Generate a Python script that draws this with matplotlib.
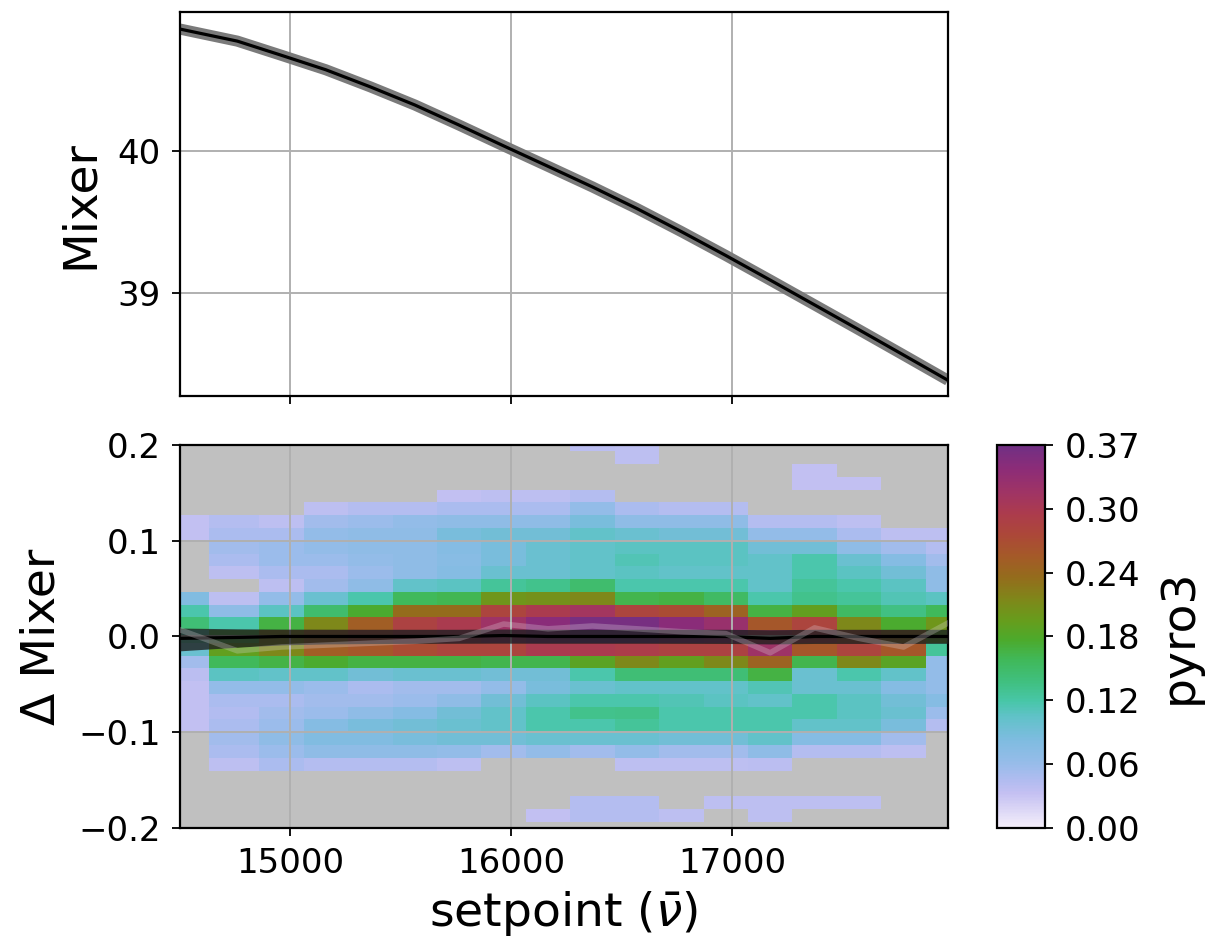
import numpy as np
import matplotlib
matplotlib.use("Agg")
import matplotlib.pyplot as plt
from matplotlib.colors import LinearSegmentedColormap

# ---------------- data ----------------
setpoints = [14500, 14760, 14960, 15161, 15362, 15564, 15765, 15966, 16167,
             16368, 16570, 16771, 16972, 17173, 17374, 17576, 17777, 17978]

mixer_mean = [40.86, 40.775, 40.675, 40.573, 40.453, 40.325, 40.183, 40.037, 39.893,
              39.748, 39.595, 39.433, 39.265, 39.092, 38.917, 38.741, 38.564, 38.386]

resid_mean = [-0.002, -0.001, 0.0, 0.0, 0.0, 0.0, 0.0, 0.001, 0.0,
              0.0, 0.0, 0.0, 0.0, -0.002, 0.0, 0.0, 0.0, 0.0]
resid_hi = [0.0088, 0.0080, 0.0077, 0.0076, 0.0075, 0.0075, 0.0075, 0.0078, 0.0075,
            0.0075, 0.0075, 0.0075, 0.0075, 0.0070, 0.0075, 0.0075, 0.0075, 0.0075]
resid_lo = [-0.0150, -0.0112, -0.0088, -0.0078, -0.0074, -0.0072, -0.0071, -0.0070, -0.0071,
            -0.0071, -0.0071, -0.0072, -0.0073, -0.0078, -0.0073, -0.0073, -0.0073, -0.0072]
resid_alt = [0.007, -0.015, -0.011, -0.009, -0.007, -0.005, -0.002, 0.013, 0.008,
             0.011, 0.008, 0.005, 0.003, -0.017, 0.009, -0.002, -0.011, 0.014]

# Δ Mixer bin centres, top (0.2) to bottom (-0.2)
dmixer_centres = np.linspace(0.2, -0.2, 31)

# pyro3 fraction per bin, one list per setpoint column, rows top -> bottom
c14500 = [0, 0, 0, 0, 0, 0, .035, .035, 0, 0, 0, 0, .082, .12, .145, .12, .10, .055, .04, .035, .035, .035, .035, 0, 0, 0, 0, 0, 0, 0, 0]
c14760 = [0, 0, 0, 0, 0, 0, .043, .05, .055, .05, .038, 0, .038, .07, .12, .17, .195, .16, .11, .065, .05, .045, .05, .055, .05, .038, 0, 0, 0, 0, 0]
c14960 = [0, 0, 0, 0, 0, 0, .038, .05, .06, .06, .05, .038, .065, .11, .17, .22, .218, .168, .105, .065, .05, .055, .06, .07, .06, .05, 0, 0, 0, 0, 0]
c15161 = [0, 0, 0, 0, 0, .038, .055, .065, .065, .06, .05, .055, .10, .15, .218, .25, .255, .178, .105, .06, .055, .06, .078, .082, .07, .043, 0, 0, 0, 0, 0]
c15362 = [0, 0, 0, 0, 0, .043, .06, .07, .07, .065, .06, .07, .12, .178, .255, .28, .262, .17, .093, .05, .055, .07, .088, .082, .07, .043, 0, 0, 0, 0, 0]
c15564 = [0, 0, 0, 0, 0, .043, .065, .07, .07, .07, .07, .105, .16, .24, .29, .30, .275, .17, .10, .055, .06, .078, .093, .088, .07, .043, 0, 0, 0, 0, 0]
c15765 = [0, 0, 0, 0, .035, .05, .07, .088, .078, .075, .078, .11, .163, .24, .303, .31, .285, .17, .10, .055, .07, .093, .10, .093, .065, .038, 0, 0, 0, 0, 0]
c15966 = [0, 0, 0, 0, .038, .05, .07, .093, .088, .088, .10, .128, .205, .285, .322, .33, .285, .165, .093, .065, .093, .105, .105, .093, .055, 0, 0, 0, 0, 0, 0]
c16167 = [0, 0, 0, 0, .038, .05, .07, .093, .10, .10, .10, .133, .21, .303, .345, .35, .303, .165, .093, .088, .11, .12, .12, .10, .065, 0, 0, 0, 0, .035, 0]
c16368 = [.04, 0, 0, 0, .043, .065, .088, .105, .105, .105, .105, .15, .218, .315, .36, .366, .303, .19, .12, .10, .12, .133, .12, .10, .055, 0, 0, 0, .043, .043, 0]
c16570 = [.038, .038, 0, 0, 0, .05, .07, .10, .11, .115, .11, .12, .165, .285, .36, .366, .298, .218, .145, .105, .12, .135, .128, .10, .065, .038, 0, 0, .043, .043, 0]
c16771 = [0, 0, 0, 0, 0, .043, .07, .093, .11, .11, .105, .12, .17, .275, .345, .35, .29, .195, .145, .105, .115, .12, .12, .093, .055, .038, 0, 0, 0, .038, 0]
c16972 = [0, 0, 0, 0, 0, .043, .07, .093, .11, .11, .105, .12, .155, .25, .33, .34, .29, .218, .145, .105, .11, .12, .12, .093, .055, .038, 0, 0, .038, 0, 0]
c17173 = [0, 0, 0, 0, 0, 0, .043, .065, .093, .105, .105, .105, .12, .17, .262, .31, .322, .25, .17, .115, .105, .12, .12, .105, .07, .04, 0, 0, .038, .038, 0]
c17374 = [0, 0, .035, .035, 0, 0, .043, .065, .093, .12, .12, .128, .133, .195, .285, .30, .262, .165, .10, .10, .12, .12, .105, .078, .043, 0, 0, 0, .038, 0, 0]
c17576 = [0, 0, 0, .035, 0, 0, .038, .05, .07, .10, .11, .12, .128, .155, .218, .27, .285, .218, .12, .10, .11, .11, .105, .078, .043, 0, 0, 0, .038, 0, 0]
c17777 = [0, 0, 0, 0, 0, 0, 0, .038, .055, .078, .093, .11, .115, .138, .178, .24, .262, .19, .105, .078, .093, .10, .088, .055, .038, 0, 0, 0, 0, 0, 0]
c17978 = [0, 0, 0, 0, 0, 0, 0, .038, .043, .055, .07, .07, .11, .16, .205, .19, .128, .065, .065, .065, .078, .06, .043, 0, 0, 0, 0, 0, 0, 0, 0]

columns = [c14500, c14760, c14960, c15161, c15362, c15564, c15765, c15966, c16167,
           c16368, c16570, c16771, c16972, c17173, c17374, c17576, c17777, c17978]

cbar_ticklabels = ["0.00", "0.06", "0.12", "0.18", "0.24", "0.30", "0.37"]
vmax = 0.366

# ---------------- colour map ----------------
cmap_nodes = [
    (0.00, "#f4eefa"), (0.09, "#c4c0f2"), (0.125, "#b0bcf0"), (0.165, "#98bcea"),
    (0.23, "#7ebce0"), (0.29, "#60c2c8"), (0.33, "#48c6a8"), (0.38, "#40c080"),
    (0.44, "#40b858"), (0.49, "#4caa2c"), (0.545, "#689c1c"), (0.60, "#80861a"),
    (0.655, "#946c1c"), (0.71, "#a45a28"), (0.765, "#ac4838"), (0.82, "#ac3c4c"),
    (0.875, "#a03464"), (0.94, "#8c2c78"), (1.00, "#703084"),
]
cmap = LinearSegmentedColormap.from_list("pyro3_cmap", cmap_nodes)

# ---------------- figure ----------------
plt.rcParams["font.family"] = ["DejaVu Sans"]
TICK_FS = 24.5
LABEL_FS = 34

fig = plt.figure(figsize=(12.15, 9.47), dpi=100)
ax_top = fig.add_axes([0.1481, 0.5818, 0.6321, 0.4055])
ax_bot = fig.add_axes([0.1481, 0.1257, 0.6321, 0.4044], sharex=ax_top)
cax = fig.add_axes([0.8206, 0.1257, 0.0395, 0.4044])

x = np.array(setpoints, dtype=float)

# top panel
ax_top.plot(x, mixer_mean, color="#7a7a7a", lw=8, solid_capstyle="butt",
            solid_joinstyle="round", zorder=2)
ax_top.plot(x, mixer_mean, color="black", lw=2.3, solid_joinstyle="round", zorder=3)
ax_top.set_ylim(38.275, 40.98)
ax_top.set_yticks([39, 40])
ax_top.set_ylabel("Mixer", fontsize=LABEL_FS, labelpad=10)
ax_top.grid(True, color="#b0b0b0", lw=1.4)
plt.setp(ax_top.get_xticklabels(), visible=False)

# bottom panel: 2-D histogram
grid = np.array(columns, dtype=float).T          # rows top->bottom, cols setpoints
grid = grid[::-1]                                 # bottom->top
yc = dmixer_centres[::-1]
masked = np.ma.masked_less_equal(grid, 0)
ax_bot.set_facecolor("#c0c0c0")
mesh = ax_bot.pcolormesh(x, yc, masked, cmap=cmap, vmin=0, vmax=vmax,
                         shading="nearest", zorder=1)
ax_bot.fill_between(x, np.array(resid_lo), np.array(resid_hi),
                    color="#202020", alpha=0.8, lw=0, zorder=3)
ax_bot.plot(x, resid_mean, color="black", lw=2.3, zorder=4)
ax_bot.plot(x, resid_alt, color="#e0d8e0", lw=4, alpha=0.28, zorder=5)
ax_bot.set_ylim(-0.2, 0.2)
ax_bot.set_yticks([-0.2, -0.1, 0.0, 0.1, 0.2])
ax_bot.set_xlim(x[0], x[-1])
ax_bot.set_xticks([15000, 16000, 17000])
ax_bot.grid(True, color="#b0b0b0", lw=1.4)
ax_bot.set_ylabel("Δ Mixer", fontsize=LABEL_FS, labelpad=10)
ax_bot.set_xlabel(r"setpoint ($\bar{\nu}$)", fontsize=LABEL_FS, labelpad=6)

for ax in (ax_top, ax_bot):
    ax.tick_params(labelsize=TICK_FS, length=6, width=1.3, pad=8)
    for s in ax.spines.values():
        s.set_linewidth(1.6)

# colour bar
cb = fig.colorbar(mesh, cax=cax)
ticks = np.linspace(0, vmax, 7)
cb.set_ticks(ticks)
cb.set_ticklabels(cbar_ticklabels)
cb.ax.tick_params(labelsize=TICK_FS, length=6, width=1.3, pad=8)
cb.outline.set_linewidth(1.6)
cb.set_label("pyro3", fontsize=LABEL_FS, labelpad=12)

fig.savefig("out.png", dpi=100)
